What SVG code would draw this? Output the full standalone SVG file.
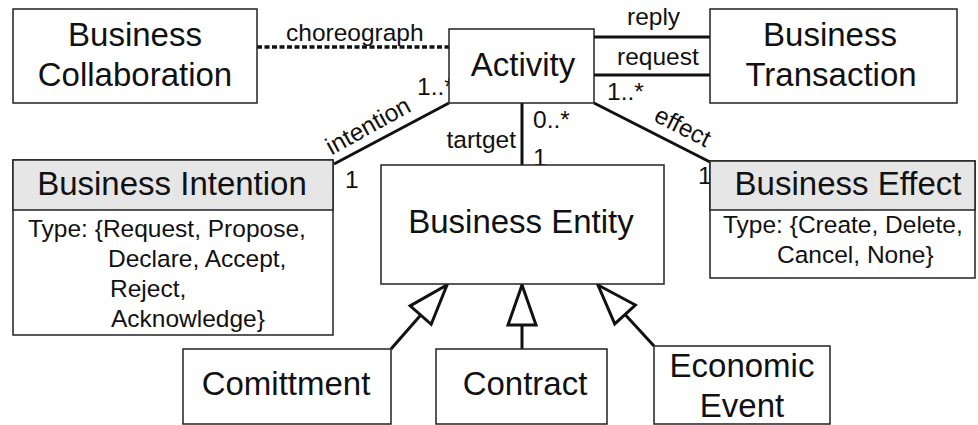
<svg xmlns="http://www.w3.org/2000/svg" width="978" height="425" viewBox="0 0 978 425">
  <style>
    .box { fill: #ffffff; stroke: #222; stroke-width: 1.5; }
    .hdr { fill: #e6e6e6; stroke: #222; stroke-width: 1.5; }
    .big { font-family: "Liberation Sans", Arial, sans-serif; font-size: 33px; fill: #111; text-anchor: middle; }
    .sm { font-family: "Liberation Sans", Arial, sans-serif; font-size: 24.5px; fill: #111; }
    .assoc { stroke: #111; stroke-width: 3; fill: none; }
    .dash { stroke: #111; stroke-width: 3.5; fill: none; stroke-dasharray: 5 2.5; }
    .gen { stroke: #111; stroke-width: 3; fill: none; marker-end: url(#hollow); }
  </style>
  <defs>
    <marker id="hollow" markerUnits="userSpaceOnUse" markerWidth="46" markerHeight="34" viewBox="-3 -3 46 34" refX="40" refY="14" orient="auto" overflow="visible">
      <path d="M0,0 L40,14 L0,28 Z" fill="#ffffff" stroke="#111" stroke-width="3" stroke-linejoin="miter"/>
    </marker>
  </defs>

  <rect width="978" height="425" fill="#ffffff"/>

  <!-- connectors -->
  <g id="connectors">
    <line class="dash" x1="257" y1="47" x2="449" y2="47"/>
    <line class="assoc" x1="594" y1="37" x2="710" y2="37"/>
    <line class="assoc" x1="594" y1="75" x2="710" y2="75"/>
    <line class="assoc" x1="449" y1="103" x2="334" y2="164"/>
    <line class="assoc" x1="522" y1="103" x2="522" y2="165"/>
    <line class="assoc" x1="594" y1="103" x2="710" y2="162"/>
    <line class="gen" x1="391" y1="349" x2="447" y2="285"/>
    <line class="gen" x1="522" y1="349" x2="522" y2="285"/>
    <line class="gen" x1="654" y1="346" x2="598" y2="285"/>

    <text class="sm" x="286" y="41">choreograph</text>
    <text class="sm" x="627" y="25">reply</text>
    <text class="sm" x="617" y="65">request</text>
    <text class="sm" x="417" y="95">1..*</text>
    <text class="sm" x="607" y="100">1..*</text>
    <text class="sm" x="533" y="128">0..*</text>
    <text class="sm" x="516" y="148" text-anchor="end">tartget</text>
    <text class="sm" x="533" y="166">1</text>
    <text class="sm" x="345" y="188">1</text>
    <text class="sm" x="698" y="184">1</text>
    <text class="sm" text-anchor="middle" transform="translate(372,133) rotate(-29)">intention</text>
    <text class="sm" text-anchor="middle" transform="translate(679,134) rotate(27)">effect</text>
  </g>

  <g id="business-collaboration">
    <rect class="box" x="13" y="9" width="244" height="94"/>
    <text class="big" x="135" y="46">Business</text>
    <text class="big" x="135" y="86">Collaboration</text>
  </g>

  <g id="activity">
    <rect class="box" x="449" y="29" width="145" height="74"/>
    <text class="big" x="523" y="76">Activity</text>
  </g>

  <g id="business-transaction">
    <rect class="box" x="710" y="9" width="247" height="94"/>
    <text class="big" x="830" y="46">Business</text>
    <text class="big" x="831" y="86">Transaction</text>
  </g>

  <g id="business-intention">
    <rect class="box" x="13" y="160" width="320" height="175"/>
    <rect class="hdr" x="13" y="160" width="320" height="50"/>
    <text class="big" x="172" y="195">Business Intention</text>
    <text class="sm" x="28" y="237">Type: {Request, Propose,</text>
    <text class="sm" x="108" y="267">Declare, Accept,</text>
    <text class="sm" x="110" y="297">Reject,</text>
    <text class="sm" x="111" y="327">Acknowledge}</text>
  </g>

  <g id="business-effect">
    <rect class="box" x="710" y="161" width="265" height="117"/>
    <rect class="hdr" x="710" y="161" width="265" height="49"/>
    <text class="big" x="848" y="195">Business Effect</text>
    <text class="sm" x="723" y="233">Type: {Create, Delete,</text>
    <text class="sm" x="777" y="263">Cancel, None}</text>
  </g>

  <g id="business-entity">
    <rect class="box" x="381" y="165" width="283" height="119"/>
    <text class="big" x="521" y="233">Business Entity</text>
  </g>

  <g id="comittment">
    <rect class="box" x="183" y="349" width="208" height="75"/>
    <text class="big" x="286" y="395">Comittment</text>
  </g>

  <g id="contract">
    <rect class="box" x="436" y="349" width="171" height="75"/>
    <text class="big" x="525" y="395">Contract</text>
  </g>

  <g id="economic-event">
    <rect class="box" x="654" y="346" width="176" height="78"/>
    <text class="big" x="742" y="377">Economic</text>
    <text class="big" x="742" y="417">Event</text>
  </g>
</svg>
